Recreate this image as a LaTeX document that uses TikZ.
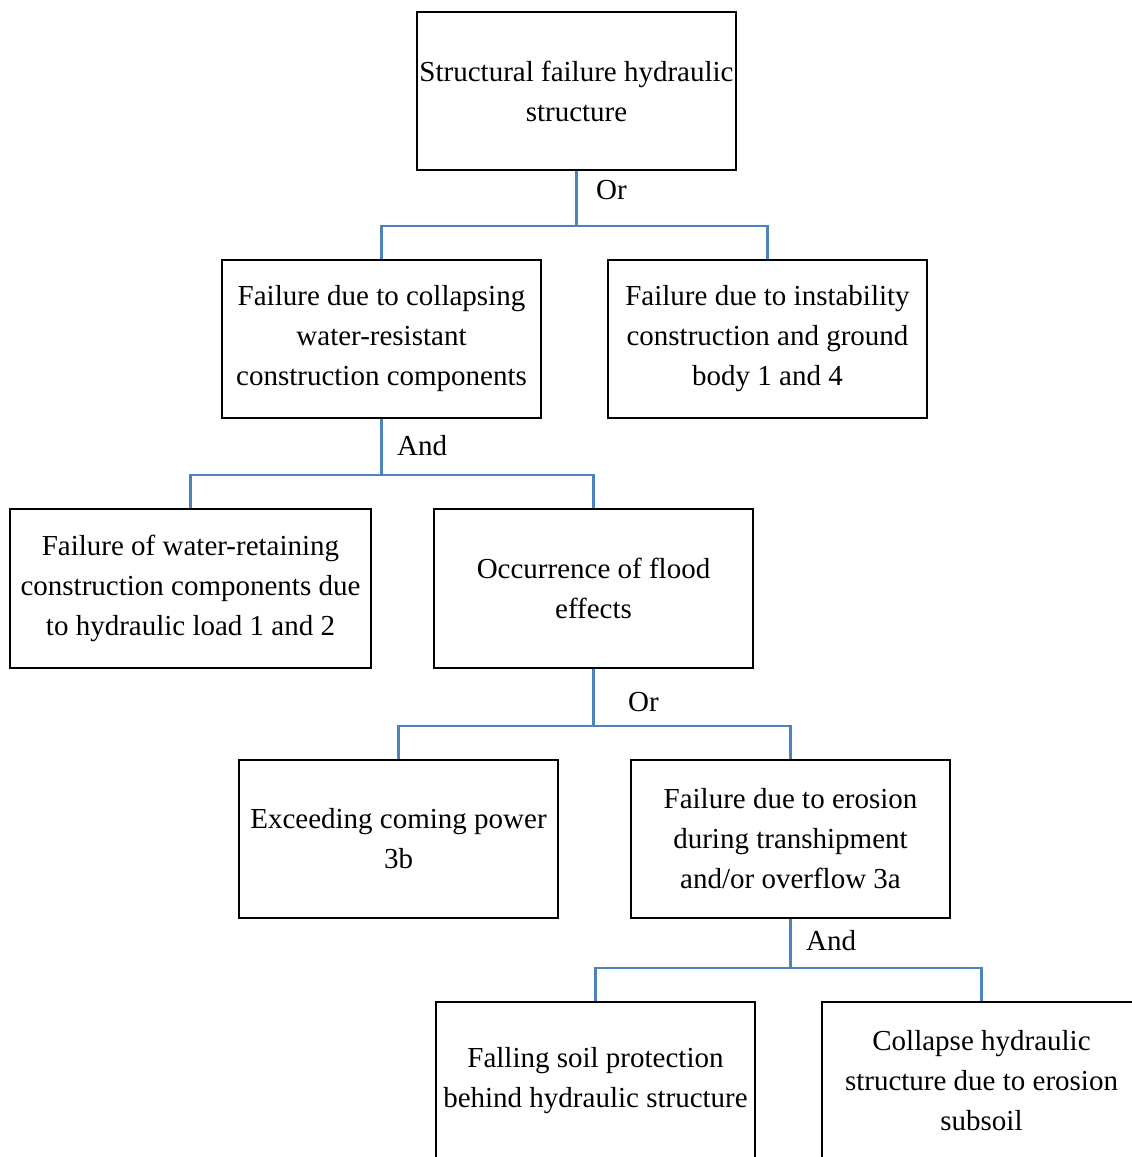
\documentclass[tikz,border=0pt]{standalone}
\usepackage{fontspec}
\setmainfont{Liberation Serif}
\definecolor{linkblue}{RGB}{79,129,189}

\begin{document}
\begin{tikzpicture}[x=1pt, y=-1pt,
    box/.style={draw=black, line width=2.6pt, minimum width=319pt, minimum height=158pt,
        align=center, inner sep=0pt, font=\fontsize{29}{40}\selectfont},
    link/.style={draw=linkblue, line width=2.6pt},
    gate/.style={anchor=west, inner sep=0pt, font=\fontsize{29}{30}\selectfont}]
    \useasboundingbox (0,0) rectangle (1132,1157);

    \node[box] (top) at (576.5,91) {Structural failure hydraulic\\structure};
    \node[box] (collapse) at (381.5,339) {Failure due to collapsing\\water-resistant\\construction components};
    \node[box] (instab) at (767.5,339) {Failure due to instability\\construction and ground\\body 1 and 4};
    \node[box, minimum width=361pt, minimum height=159pt] (load) at (190.5,588.5) {Failure of water-retaining\\construction components due\\to hydraulic load 1 and 2};
    \node[box, minimum height=159pt] (flood) at (593.5,588.5) {Occurrence of flood\\effects};
    \node[box] (power) at (398.5,839) {Exceeding coming power\\3b};
    \node[box] (erosion) at (790.5,839) {Failure due to erosion\\during transhipment\\and/or overflow 3a};
    \node[box] (soil) at (595.5,1081) {Falling soil protection\\behind hydraulic structure};
    \node[box] (subsoil) at (981.5,1081) {Collapse hydraulic\\structure due to erosion\\subsoil};

    \coordinate (j1) at (576.5,226);
    \coordinate (j2) at (381.5,475);
    \coordinate (j3) at (593.5,726);
    \coordinate (j4) at (790.5,968);

    \draw[link] (top.south) -- (j1) -| (collapse.north);
    \draw[link] (j1) -| (instab.north);
    \draw[link] (collapse.south) -- (j2) -| (load.north);
    \draw[link] (j2) -| (flood.north);
    \draw[link] (flood.south) -- (j3) -| (power.north);
    \draw[link] (j3) -| (erosion.north);
    \draw[link] (erosion.south) -- (j4) -| (soil.north);
    \draw[link] (j4) -| (subsoil.north);

    \node[gate] (or1) at (596,190) {Or};
    \node[gate] (and1) at (397,446) {And};
    \node[gate] (or2) at (628,702) {Or};
    \node[gate] (and2) at (806,941) {And};
\end{tikzpicture}
\end{document}
